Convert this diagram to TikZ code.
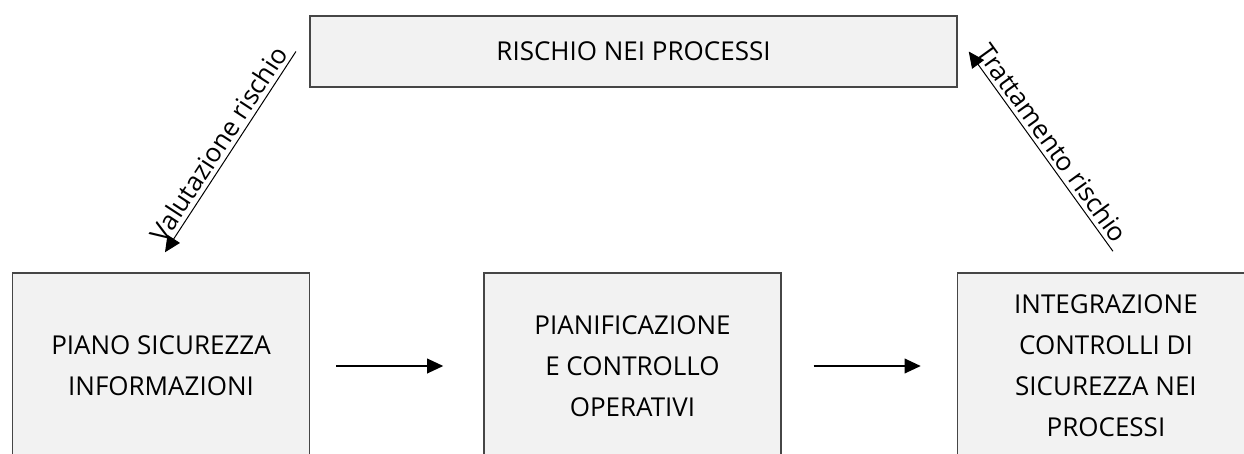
\documentclass[tikz,border=0pt]{standalone}
\usepackage{fontspec}
\setmainfont{Open Sans}
\usetikzlibrary{arrows.meta,positioning}

\definecolor{boxfill}{RGB}{242,242,242}
\definecolor{boxline}{RGB}{70,70,70}

\begin{document}
\begin{tikzpicture}[x=0.75pt,y=-0.75pt,thick]

	\tikzset{
		blocco/.style={draw=boxline,fill=boxfill,line width=1.1pt,minimum width=222.75pt,minimum height=139.5pt,align=center,inner sep=0pt,font=\fontsize{19.5}{30.75}\selectfont},
		freccia/.style={-{Triangle[length=12pt,width=11pt]},line width=1pt},
		etichetta/.style={font=\fontsize{19.5}{22}\selectfont,inner sep=3pt}
	}

	\useasboundingbox (0,0) rectangle (1244,453);
	\clip (0,0) rectangle (1244,453);

	\node[blocco,minimum width=485.25pt,minimum height=53.25pt] (rischio) at (633.5,51.5) {RISCHIO NEI PROCESSI};
	\node[blocco] (piano) at (161,366) {PIANO SICUREZZA\\INFORMAZIONI};
	\node[blocco] (pianif) [right=129.75pt of piano] {PIANIFICAZIONE\\E CONTROLLO\\OPERATIVI};
	\node[blocco] (integr) [right=131.25pt of pianif] {INTEGRAZIONE\\CONTROLLI DI\\SICUREZZA NEI\\PROCESSI};

	\coordinate (valA) at ([xshift=-10pt]rischio.west);
	\coordinate (valB) at ([shift={(3pt,15pt)}]piano.north);
	\coordinate (trA) at ([shift={(5.25pt,15.75pt)}]integr.north);
	\coordinate (trB) at ([xshift=8.25pt]rischio.east);

	\draw[freccia,shorten <=19.5pt,shorten >=30pt] (piano) -- (pianif);
	\draw[freccia,shorten <=24pt,shorten >=27pt] (pianif) -- (integr);
	\draw[freccia,line width=0.75pt] (valA) -- node[etichetta,sloped,above] {Valutazione rischio} (valB);
	\draw[freccia,line width=0.75pt] (trA) -- node[etichetta,sloped,above] {Trattamento rischio} (trB);

\end{tikzpicture}
\end{document}
